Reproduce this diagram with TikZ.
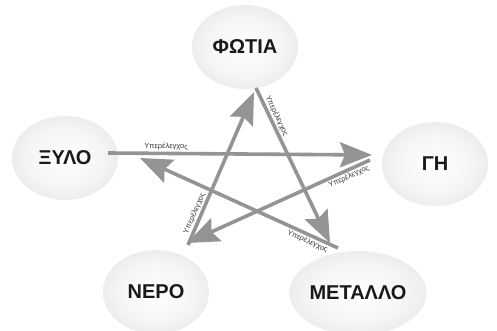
\documentclass[tikz,border=0pt]{standalone}
\usepackage{fontspec}
\setmainfont{Liberation Sans}
\usetikzlibrary{shapes.geometric,arrows.meta}
\definecolor{arrowgray}{RGB}{148,148,148}
\definecolor{labelgray}{RGB}{55,55,55}
\pgfdeclareradialshading{ballshade}{\pgfpoint{0bp}{0bp}}{color(0bp)=(white); color(18bp)=(white!96!black); color(36bp)=(white!88!black); color(50bp)=(white!77!black)}
\begin{document}
\begin{tikzpicture}[x=1pt,y=1pt,
  element/.style={ellipse, shading=ballshade, minimum width=106pt, minimum height=84pt, inner sep=0pt,
    font=\bfseries\fontsize{20}{24}\selectfont, text=black!90},
  ctrl/.style={draw=arrowgray, line width=3.6pt, -{Stealth[length=32pt,width=25pt,inset=5pt]}},
  ctrllabel/.style={font=\fontsize{7.5}{8}\selectfont, text=labelgray, sloped, inner sep=1.2pt}
]
\useasboundingbox (0,0) rectangle (497,331);
\clip (0,0) rectangle (497,331);
\fill[white] (0,0) rectangle (497,331);

\node[element] (fire)  at (245,284) {ΦΩΤΙΑ};
\node[element] (wood)  at (65,173)  {ΞΥΛΟ};
\node[element] (earth) at (435,167) {ΓΗ};
\node[element] (water) at (156,39)  {ΝΕΡΟ};
\node[element] (metal) at (358,38)  {ΜΕΤΑΛΛΟ};

\coordinate (aS) at (256,243); \coordinate (aE) at (330,88);
\coordinate (bS) at (338,83);  \coordinate (bE) at (140,173);
\coordinate (cS) at (108,178); \coordinate (cE) at (372,176);
\coordinate (dS) at (370,171); \coordinate (dE) at (187,88);
\coordinate (eS) at (188,86);  \coordinate (eE) at (254,239);

\draw[ctrl] (aS) -- node[ctrllabel, pos=0.2, above] {Υπερέλεγχος} (aE);
\draw[ctrl] (bS) -- node[ctrllabel, pos=0.14, below] {Υπερέλεγχος} (bE);
\draw[ctrl] (cS) -- node[ctrllabel, pos=0.22, above] {Υπερέλεγχος} (cE);
\draw[ctrl] (dS) -- node[ctrllabel, pos=0.13, below] {Υπερέλεγχος} (dE);
\draw[ctrl] (eS) -- node[ctrllabel, pos=0.19, above] {Υπερέλεγχος} (eE);
\end{tikzpicture}
\end{document}
